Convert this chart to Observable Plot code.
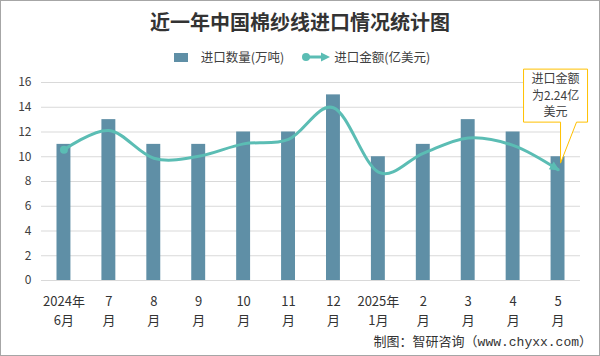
<!DOCTYPE html>
<html><head><meta charset="utf-8">
<script src="https://cdn.jsdelivr.net/npm/d3@7"></script>
<script src="https://cdn.jsdelivr.net/npm/@observablehq/plot@0.6"></script>
<style>
body{margin:0;background:#fff;}
#wrap{position:relative;width:600px;height:356px;overflow:hidden;background:#fff;font-family:"Noto Sans CJK SC","Noto Sans",sans-serif;}
#border{position:absolute;left:0;top:0;width:600px;height:356px;box-sizing:border-box;border:1px solid #a6a6a6;pointer-events:none;z-index:5;}
#title{position:absolute;left:0;top:8px;width:600px;text-align:center;font-size:20px;font-weight:bold;color:#333;line-height:28px;}
#legend{position:absolute;left:0;top:48px;width:604px;display:flex;justify-content:center;align-items:center;font-size:12.5px;color:#404040;line-height:18px;}
#legend .item{display:flex;align-items:center;}
#chart{position:absolute;left:0;top:64px;}
#caption{position:absolute;right:8px;top:334px;font-size:13px;line-height:18px;color:#333;font-family:"Liberation Mono","Noto Sans CJK SC",monospace;}
</style></head>
<body>
<div id="wrap">
  <div id="title">近一年中国棉纱线进口情况统计图</div>
  <div id="legend">
    <div class="item"><span style="display:inline-block;width:14px;height:9px;background:#5f8fa6;margin-right:13px"></span><span>进口数量(万吨)</span></div>
    <div class="item" style="margin-left:17px"><svg width="30" height="12" style="margin-right:3px"><line x1="4" y1="6" x2="22" y2="6" stroke="#5bbdb4" stroke-width="3"/><circle cx="5" cy="6" r="4" fill="#5bbdb4"/><path d="M20,1.5L29,6L20,10.5Z" fill="#5bbdb4"/></svg><span>进口金额(亿美元)</span></div>
  </div>
  <div id="chart"></div>
  <div id="caption">制图：智研咨询（www.chyxx.com）</div>
  <div id="border"></div>
</div>
<script>
// Categories (months) — "\n" splits the two-line tick label
const months = ["2024年\n6月","7\n月","8\n月","9\n月","10\n月","11\n月","12\n月","2025年\n1月","2\n月","3\n月","4\n月","5\n月"];
// 进口数量(万吨)
const quantity = [11, 13, 11, 11, 12, 12, 15, 10, 11, 13, 12, 10];
// 进口金额(亿美元) — plotted on a hidden secondary axis 0–4
const amount = [2.64, 3.03, 2.47, 2.51, 2.76, 2.85, 3.49, 2.19, 2.57, 2.88, 2.73, 2.24];
const yTicks = [0, 2, 4, 6, 8, 10, 12, 14, 16];
const calloutLines = ["进口金额", "为2.24亿", "美元"];

const Y2_MAX = 4, Y1_MAX = 16; // secondary axis 0–4 maps onto primary 0–16
const rows = months.map((m, i) => ({month: m, q: quantity[i], a: amount[i]}));

const barColor = "#5f8fa6", lineColor = "#5bbdb4";

const plot = Plot.plot({
  width: 600,
  height: 266,
  marginTop: 18,
  marginBottom: 50,
  marginLeft: 41,
  marginRight: 20,
  style: {fontFamily: "'Noto Sans CJK SC','Noto Sans',sans-serif", fontSize: "12px", color: "#404040", background: "transparent"},
  x: {domain: months, paddingInner: 0.69, paddingOuter: 0.345, round: false},
  y: {domain: [0, Y1_MAX]},
  marks: [
    Plot.gridY(yTicks, {stroke: "#d9d9d9", strokeOpacity: 1}),
    Plot.axisY(yTicks, {tickSize: 0, tickPadding: 10, label: null, fontSize: 12}),
    Plot.axisX({tickSize: 0, tickPadding: 12, label: null, fontSize: 13, lineHeight: 1.45, fill: "#333"}),
    Plot.barY(rows, {x: "month", y: "q", fill: barColor}),
    Plot.line(rows, {x: "month", y: d => d.a * Y1_MAX / Y2_MAX, stroke: lineColor, strokeWidth: 3,
      curve: "cardinal", markerStart: "dot", markerEnd: "arrow"})
  ]
});
document.getElementById("chart").appendChild(plot);

// restyle markers: filled dot start, filled triangle arrow end
d3.select(plot).selectAll("marker").each(function() {
  const m = d3.select(this);
  const p = m.select("path");
  if (!p.empty()) {
    m.attr("fill", lineColor).attr("stroke", "none");
    p.attr("d", "M-4,-2.3L1,0L-4,2.3Z").attr("fill", lineColor).attr("stroke", "none");
  }
  const c = m.select("circle");
  if (!c.empty()) {
    c.attr("r", 2).attr("fill", lineColor).attr("stroke", "none");
  }
});

// callout anchored to the last data point
const sx = plot.scale("x"), sy = plot.scale("y");
const last = rows.length - 1;
const cx = sx.apply(months[last]) + sx.bandwidth / 2;
const py = sy.apply(amount[last] * Y1_MAX / Y2_MAX);
const L = cx - 34, R = cx + 30, T = py - 100, B = py - 47;
const tx = cx + 3, ty = py - 6;
const g = d3.select(plot).append("g");
g.append("path")
  .attr("d", `M${L},${T}H${R}V${B}H${tx + 16}L${tx},${ty}L${tx},${B}H${L}Z`)
  .attr("fill", "#fff").attr("stroke", "#ffc000").attr("stroke-width", 1);
calloutLines.forEach((t, i) => {
  g.append("text").attr("x", (L + R) / 2).attr("y", T + 10 + i * 16.5)
    .attr("dy", "0.35em").attr("text-anchor", "middle")
    .attr("font-size", 12).attr("fill", "#404040").text(t);
});
</script>
</body></html>
